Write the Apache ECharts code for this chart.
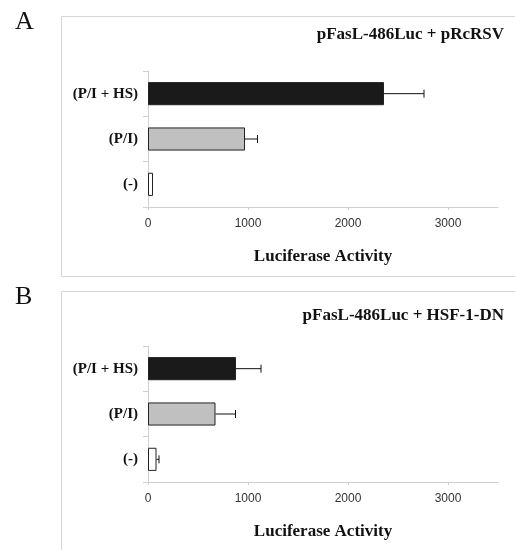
<!DOCTYPE html>
<html>
<head>
<meta charset="utf-8">
<script src="https://cdn.jsdelivr.net/npm/echarts@6/dist/echarts.min.js"></script>
<style>
  html, body { margin: 0; padding: 0; background: #fff; }
  #main { width: 515px; height: 550px; }
</style>
</head>
<body>
<div id="main"></div>
<script>
var chartDom = document.getElementById('main');
var myChart = echarts.init(chartDom);
var option;

// bottom to top, as the category axis lists them
const categories = ['(-)', '(P/I)', '(P/I + HS)'];
const barColors = ['#ffffff', '#c0c0c0', '#1a1a1a'];

// A: pFasL-486Luc + pRcRSV
const valuesA = [50, 970, 2360];
const errA = [0, 125, 400];
// B: pFasL-486Luc + HSF-1-DN
const valuesB = [85, 675, 880];
const errB = [25, 200, 250];

const xTicks = { min: 0, max: 3500, interval: 1000 };

const serif = '"Liberation Serif", "DejaVu Serif", serif';
const axisGray = '#d0d0d0';

function barData(values) {
  return values.map(function (v, i) {
    return {
      value: v,
      itemStyle: { color: barColors[i] }
    };
  });
}

function errData(values, errs) {
  return values.map(function (v, i) {
    return [v, errs[i], i];
  });
}

function renderErr(params, api) {
  var v = api.value(0);
  var e = api.value(1);
  if (!e) return null;
  var cat = api.value(2);
  var p0 = api.coord([v, cat]);
  var p1 = api.coord([v + e, cat]);
  var style = { stroke: '#111', lineWidth: 1 };
  return {
    type: 'group',
    children: [
      { type: 'line', shape: { x1: p0[0], y1: p0[1], x2: p1[0], y2: p1[1] }, style: style },
      { type: 'line', shape: { x1: p1[0], y1: p1[1] - 4, x2: p1[0], y2: p1[1] + 4 }, style: style }
    ]
  };
}

function xAxisCfg(gridIndex) {
  return {
    type: 'value',
    gridIndex: gridIndex,
    min: xTicks.min,
    max: xTicks.max,
    interval: xTicks.interval,
    name: 'Luciferase Activity',
    nameLocation: 'middle',
    nameGap: 41,
    nameTextStyle: { fontFamily: serif, fontWeight: 'bold', fontSize: 17, color: '#111' },
    axisLine: { show: true, lineStyle: { color: axisGray } },
    axisTick: { show: true, length: 3, lineStyle: { color: axisGray } },
    axisLabel: {
      margin: 11,
      fontFamily: '"Liberation Sans", Arial, sans-serif',
      fontSize: 12,
      color: '#333',
      showMaxLabel: false,
      formatter: function (v) { return String(v); }
    },
    splitLine: { show: false }
  };
}

function yAxisCfg(gridIndex) {
  return {
    type: 'category',
    gridIndex: gridIndex,
    data: categories,
    axisLine: { show: true, lineStyle: { color: axisGray } },
    axisTick: { show: true, length: 5, lineStyle: { color: axisGray } },
    axisLabel: {
      margin: 10,
      fontFamily: serif,
      fontWeight: 'bold',
      fontSize: 15,
      color: '#111'
    }
  };
}

option = {
  animation: false,
  backgroundColor: '#fff',
  title: [
    { text: 'A', left: 10, top: 4, textStyle: { fontFamily: serif, fontWeight: 'normal', fontSize: 26, color: '#111' } },
    { text: 'B', left: 10, top: 279, textStyle: { fontFamily: serif, fontWeight: 'normal', fontSize: 26, color: '#111' } },
    { text: 'pFasL-486Luc + pRcRSV', right: 11, top: 26, padding: 0, textStyle: { fontFamily: serif, fontWeight: 'bold', fontSize: 17, color: '#111' } },
    { text: 'pFasL-486Luc + HSF-1-DN', right: 11, top: 307, padding: 0, textStyle: { fontFamily: serif, fontWeight: 'bold', fontSize: 17, color: '#111' } }
  ],
  graphic: [
    { type: 'rect', shape: { x: 61.5, y: 16.5, width: 470, height: 260 }, style: { fill: 'none', stroke: '#d6d6d6', lineWidth: 1 }, z: -1 },
    { type: 'rect', shape: { x: 61.5, y: 291.5, width: 470, height: 280 }, style: { fill: 'none', stroke: '#d6d6d6', lineWidth: 1 }, z: -1 }
  ],
  grid: [
    { left: 148, width: 350, top: 71, height: 136 },
    { left: 148, width: 350, top: 346, height: 136 }
  ],
  xAxis: [xAxisCfg(0), xAxisCfg(1)],
  yAxis: [yAxisCfg(0), yAxisCfg(1)],
  series: [
    {
      name: 'A',
      type: 'bar',
      xAxisIndex: 0,
      yAxisIndex: 0,
      barWidth: '51%',
      itemStyle: { borderColor: '#222', borderWidth: 1 },
      data: barData(valuesA)
    },
    {
      name: 'A err',
      type: 'custom',
      xAxisIndex: 0,
      yAxisIndex: 0,
      renderItem: renderErr,
      encode: { x: 0, y: 2 },
      data: errData(valuesA, errA),
      z: 3
    },
    {
      name: 'B',
      type: 'bar',
      xAxisIndex: 1,
      yAxisIndex: 1,
      barWidth: '51%',
      itemStyle: { borderColor: '#222', borderWidth: 1 },
      data: barData(valuesB)
    },
    {
      name: 'B err',
      type: 'custom',
      xAxisIndex: 1,
      yAxisIndex: 1,
      renderItem: renderErr,
      encode: { x: 0, y: 2 },
      data: errData(valuesB, errB),
      z: 3
    }
  ]
};

option && myChart.setOption(option);
</script>
</body>
</html>
